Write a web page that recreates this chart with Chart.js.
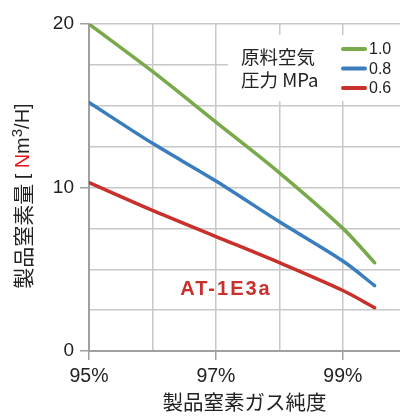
<!DOCTYPE html>
<html>
<head>
<meta charset="utf-8">
<script src="https://cdn.jsdelivr.net/npm/chart.js@4.4.1/dist/chart.umd.min.js"></script>
<style>
  html, body { margin: 0; padding: 0; background: #fff; }
  #wrap { width: 400px; height: 419px; position: relative; }
</style>
</head>
<body>
<div id="wrap"><canvas id="purityChart"></canvas></div>
<script>
// 製品窒素量 vs 純度 (AT-1E3a)
const purity = [95, 96, 97, 98, 99, 99.5];
const flow10 = [20.0, 17.1, 14.0, 10.9, 7.5, 5.4];
const flow08 = [15.2, 12.7, 10.4, 7.9, 5.5, 4.0];
const flow06 = [10.3, 8.6, 7.0, 5.4, 3.7, 2.65];
const pressureLabels = ['1.0', '0.8', '0.6'];
const xTicks = [95, 96, 97, 98, 99];
const xLabelTicks = [95, 97, 99];
const yLabelTicks = [0, 10, 20];

const GREEN = '#78a94a';
const BLUE = '#3a7dbf';
const RED = '#c9302c';
const FONT = '"Noto Sans CJK JP", "Liberation Sans", Arial, sans-serif';
const LATIN = '"Liberation Sans", Arial, sans-serif';

function toPoints(ys) {
    return purity.map((x, i) => ({ x: x, y: ys[i] }));
}

function makeSet(label, ys, color) {
    return {
        label: label,
        data: toPoints(ys),
        borderColor: color,
        backgroundColor: color,
        borderWidth: 3.5,
        pointRadius: 0,
        tension: 0.3,
        borderCapStyle: 'round'
    };
}

// legend box, model name and y title
const overlay = {
    id: 'overlay',
    afterDraw(chart) {
        const ctx = chart.ctx;
        ctx.save();

        // white legend box over grid
        ctx.fillStyle = '#fff';
        ctx.fillRect(228, 35, 172, 66);

        ctx.fillStyle = '#222';
        ctx.font = '18.5px ' + FONT;
        ctx.textBaseline = 'middle';
        ctx.textAlign = 'left';
        ctx.fillText('原料空気', 241, 57);
        ctx.fillText('圧力 MPa', 241, 80);

        ctx.font = '16px ' + LATIN;
        chart.data.datasets.forEach((ds, i) => {
            const y = 49 + i * 19.5;
            ctx.strokeStyle = ds.borderColor;
            ctx.lineWidth = 4;
            ctx.lineCap = 'round';
            ctx.beginPath();
            ctx.moveTo(343, y);
            ctx.lineTo(365, y);
            ctx.stroke();
            ctx.fillStyle = '#222';
            ctx.fillText(ds.label, 369, y + 1);
        });

        // model name
        ctx.fillStyle = RED;
        ctx.font = 'bold 20px ' + LATIN;
        ctx.letterSpacing = '2px';
        ctx.textAlign = 'center';
        ctx.fillText('AT-1E3a', 226, 289);
        ctx.letterSpacing = '0px';

        // y title, rotated, with red N and superscript 3
        const parts = [
            { t: '製品窒素量 ', c: '#222', f: '21px ' + FONT, dy: 0 },
            { t: '[ ', c: '#222', f: '19px ' + LATIN, dy: 0 },
            { t: 'N', c: '#e8141c', f: '20px ' + LATIN, dy: 0 },
            { t: 'm', c: '#222', f: '20px ' + LATIN, dy: 0 },
            { t: '3', c: '#222', f: '15px ' + LATIN, dy: -5 },
            { t: '/H]', c: '#222', f: '20px ' + LATIN, dy: 0 }
        ];
        let total = 0;
        parts.forEach(p => { ctx.font = p.f; p.w = ctx.measureText(p.t).width; total += p.w; });
        ctx.translate(23, 196);
        ctx.rotate(-Math.PI / 2);
        ctx.textAlign = 'left';
        ctx.textBaseline = 'middle';
        let x = -total / 2;
        parts.forEach(p => {
            ctx.font = p.f;
            ctx.fillStyle = p.c;
            ctx.fillText(p.t, x, p.dy);
            x += p.w;
        });
        ctx.restore();
    }
};

const chart = new Chart(document.getElementById('purityChart'), {
    type: 'line',
    data: {
        datasets: [
            makeSet(pressureLabels[0], flow10, GREEN),
            makeSet(pressureLabels[1], flow08, BLUE),
            makeSet(pressureLabels[2], flow06, RED)
        ]
    },
    options: {
        responsive: true,
        maintainAspectRatio: false,
        animation: false,
        layout: { padding: { top: 24, right: 0, left: 0, bottom: 0 } },
        plugins: {
            legend: { display: false },
            tooltip: { enabled: false }
        },
        scales: {
            x: {
                type: 'linear',
                min: 95,
                max: 99.9,
                afterBuildTicks: s => { s.ticks = xTicks.map(v => ({ value: v })); },
                afterFit: s => { s.height = 68; },
                grid: {
                    color: '#c8c8c8',
                    lineWidth: 1.5,
                    tickLength: 9,
                    tickColor: c => xLabelTicks.includes(c.tick && c.tick.value) ? '#a0a0a0' : 'rgba(0,0,0,0)'
                },
                border: { color: '#a0a0a0', width: 2 },
                ticks: {
                    color: '#222',
                    padding: 5,
                    maxRotation: 0,
                    font: { family: LATIN, size: 19.5 },
                    callback: v => xLabelTicks.includes(v) ? v + '%' : ''
                },
                title: {
                    display: true,
                    text: '製品窒素ガス純度',
                    color: '#222',
                    padding: { top: 0 },
                    font: { family: FONT, size: 20.5 }
                }
            },
            y: {
                min: 0,
                max: 20,
                afterBuildTicks: s => {
                    const t = [];
                    for (let v = 0; v <= 20; v += 2.5) t.push({ value: v });
                    s.ticks = t;
                },
                afterFit: s => { s.width = 89; },
                grid: {
                    color: '#c8c8c8',
                    lineWidth: 1.5,
                    tickLength: 9,
                    tickColor: c => yLabelTicks.includes(c.tick && c.tick.value) ? '#a0a0a0' : 'rgba(0,0,0,0)'
                },
                border: { color: '#a0a0a0', width: 2 },
                ticks: {
                    color: '#222',
                    padding: 6,
                    font: { family: LATIN, size: 19 },
                    callback: v => yLabelTicks.includes(v) ? String(v) : ''
                }
            }
        }
    },
    plugins: [overlay]
});
</script>
</body>
</html>
